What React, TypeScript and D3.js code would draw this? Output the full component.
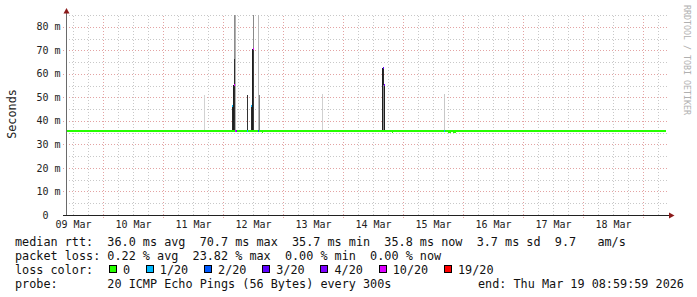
import React from "react";
import * as d3 from "d3";

// ---------- data ----------
const totalHours = 240; // 10 days ending Thu Mar 19 09:00
const yMaxMs = 85;
const yTickValues = [0, 10, 20, 30, 40, 50, 60, 70, 80];
const yTickLabels = ["0  ", "10 m", "20 m", "30 m", "40 m", "50 m", "60 m", "70 m", "80 m"];
const dayLabels = ["09 Mar", "10 Mar", "11 Mar", "12 Mar", "13 Mar", "14 Mar", "15 Mar", "16 Mar", "17 Mar", "18 Mar"];

const medianBaseMs = 36.0;
// median line dips: start hour, end hour, ms
const dipStart = [78.4, 130.4, 152.8, 154.8];
const dipEnd = [78.8, 130.8, 154.0, 156.0];
const dipMs = [35.6, 35.6, 35.6, 35.6];

// smoke columns: hour offset, top (ms), shade
const smokeHour = [55.2, 66.4, 66.8, 67.2, 67.2, 67.6, 72.4, 74.0, 74.4, 74.8, 74.8, 76.8, 77.2, 102.4, 126.4, 126.8, 126.8, 127.2, 151.2];
const smokeTop = [51.0, 46.7, 55.3, 90, 66.3, 90, 51.0, 46.7, 70.7, 90, 70.7, 90, 51.0, 51.3, 62.5, 62.5, 55.3, 55.3, 51.4];
const smokeShade = ["#d2d2d2", "#262626", "#1e1e1e", "#8c8c8c", "#2e2e2e", "#b0b0b0", "#333333", "#2a2a2a", "#1e1e1e", "#8a8a8a", "#3a3a3a", "#b8b8b8", "#808080", "#d0d0d0", "#1e1e1e", "#2a2a2a", "#8a8a8a", "#1e1e1e", "#c8c8c8"];

// loss-coloured median points: hour, ms, loss index
const markHour = [66.4, 67.2, 67.6, 68.0, 72.4, 74.0, 74.8, 76.8, 126.8, 127.2, 151.2];
const markMs = [46.7, 55.3, 36.0, 36.0, 36.0, 46.7, 70.7, 36.0, 62.5, 55.3, 36.0];
const markLoss = [1, 5, 5, 4, 1, 1, 5, 2, 3, 4, 1];

const lossLabels = ["0", "1/20", "2/20", "3/20", "4/20", "10/20", "19/20"];
const lossColors = ["#26ff00", "#00b8ff", "#0059ff", "#5e00ff", "#7e00ff", "#dd00ff", "#ff0000"];

const legendRow1 = "median rtt:  36.0 ms avg  70.7 ms max  35.7 ms min  35.8 ms now  3.7 ms sd  9.7   am/s";
const legendRow2 = "packet loss: 0.22 % avg  23.82 % max  0.00 % min  0.00 % now";
const legendRow3 = "loss color:";
const legendRow4 = "probe:       20 ICMP Echo Pings (56 Bytes) every 300s";
const legendEnd = "end: Thu Mar 19 08:59:59 2026";

// ---------- layout ----------
const W = 697, H = 297;
const mono = "'DejaVu Sans Mono', monospace";
const CW = 7.1; // legend char advance

const Pre = (props: any) => (
  <text {...props} xmlSpace="preserve" style={{ whiteSpace: "pre" }} />
);

export default function App() {
  const x = d3.scaleLinear().domain([0, totalHours]).range([66, 666]);
  const y = d3.scaleLinear().domain([0, yMaxMs]).range([215, 15]);
  const binW = x(0.4) - x(0);

  const minorV = d3.range(3, totalHours, 6).filter((h) => (h - 15) % 24 !== 0);
  const majorV = d3.range(15, totalHours, 24);
  const minorH = d3.range(5, yMaxMs + 1, 10);
  const majorH = d3.range(10, yMaxMs, 10);

  const lineY = (ms: number) => Math.ceil(y(ms));
  const medLine = d3.line<[number, number]>().x((d) => d[0]).y((d) => d[1]);

  let lx = 108.7;
  const swatches = lossLabels.map((lab, i) => {
    const pos = lx;
    lx += (2 + lab.length + 2.2) * CW;
    return { lab, color: lossColors[i], pos };
  });

  return (
    <svg width={W} height={H} style={{ position: "absolute", left: 0, top: 0, background: "#fff" }}>
      <rect x={0} y={0} width={W} height={H} fill="#fff" />
      <g shapeRendering="crispEdges">
        {minorH.map((v) => (
          <line key={"mh" + v} x1={66} x2={668} y1={Math.round(y(v)) + 0.5} y2={Math.round(y(v)) + 0.5} stroke="#c8c8c8" strokeDasharray="1,2" />
        ))}
        {minorV.map((h) => (
          <line key={"mv" + h} x1={x(h)} x2={x(h)} y1={215} y2={14} stroke="#c8c8c8" strokeDasharray="1,2" />
        ))}
        {majorH.map((v) => (
          <line key={"Mh" + v} x1={63} x2={669} y1={Math.round(y(v)) + 0.5} y2={Math.round(y(v)) + 0.5} stroke="#e3a3a3" strokeDasharray="1,2" />
        ))}
        {majorV.map((h) => (
          <line key={"Mv" + h} x1={x(h)} x2={x(h)} y1={218} y2={14} stroke="#e3a3a3" strokeDasharray="1,2" />
        ))}
      </g>

      <g shapeRendering="crispEdges">
        {smokeHour.map((h, i) => {
          const top = y(Math.min(smokeTop[i], yMaxMs));
          return (
            <rect key={"s" + i} x={x(h)} width={binW} y={Math.round(top)} height={y(medianBaseMs) - Math.round(top)} fill={smokeShade[i]} />
          );
        })}
      </g>

      <path d={medLine([[x(0), lineY(medianBaseMs)], [x(totalHours), lineY(medianBaseMs)]]) || ""} stroke={lossColors[0]} strokeWidth={2} fill="none" shapeRendering="crispEdges" />
      {dipStart.map((s, i) => (
        <path key={"d" + i} d={medLine([[x(s), lineY(dipMs[i])], [x(dipEnd[i]), lineY(dipMs[i])]]) || ""} stroke={lossColors[0]} strokeWidth={2} fill="none" shapeRendering="crispEdges" />
      ))}
      {markHour.map((h, i) => (
        <rect key={"m" + i} x={x(h)} width={binW} y={lineY(markMs[i]) - 1} height={2} fill={lossColors[markLoss[i]]} shapeRendering="crispEdges" />
      ))}

      <g shapeRendering="crispEdges">
        <line x1={66.5} x2={66.5} y1={216} y2={12} stroke="#6a6a6a" />
        <line x1={63} x2={671} y1={215.5} y2={215.5} stroke="#202020" />
      </g>
      <polygon points="63.5,13.5 69.5,13.5 66.5,8" fill="#8b1a1a" />
      <polygon points="669,212.5 669,218.5 674.5,215.5" fill="#8b1a1a" />

      {yTickValues.map((v, i) => (
        <Pre key={"yl" + v} x={60.5} y={y(v)} dy="0.36em" textAnchor="end" fontFamily={mono} fontSize={10} fill="#222">
          {yTickLabels[i]}
        </Pre>
      ))}
      {dayLabels.map((lab, i) => (
        <text key={"xl" + i} x={x(3 + 24 * i)} y={227.5} textAnchor="middle" fontFamily={mono} fontSize={10} fill="#222">
          {lab}
        </text>
      ))}

      <text transform={`translate(15.5,114) rotate(-90)`} textAnchor="middle" fontFamily={mono} fontSize={11.8} fill="#222">
        Seconds
      </text>
      <text transform={`translate(684,60) rotate(90)`} textAnchor="middle" fontFamily={mono} fontSize={8.3} fill="#b0b0b0">
        RRDTOOL / TOBI OETIKER
      </text>

      <g fontFamily={mono} fontSize={11.8} fill="#111">
        <Pre x={15} y={245.5}>{legendRow1}</Pre>
        <Pre x={15} y={259.5}>{legendRow2}</Pre>
        <Pre x={15} y={273.5}>{legendRow3}</Pre>
        {swatches.map((s) => (
          <g key={s.lab}>
            <rect x={s.pos + 0.5} y={265.5} width={7} height={7} fill={s.color} stroke="#000" shapeRendering="crispEdges" />
            <text x={s.pos + 2 * CW} y={273.5}>{s.lab}</text>
          </g>
        ))}
        <Pre x={15} y={287.5}>{legendRow4}</Pre>
        <Pre x={478} y={287.5}>{legendEnd}</Pre>
      </g>
    </svg>
  );
}
